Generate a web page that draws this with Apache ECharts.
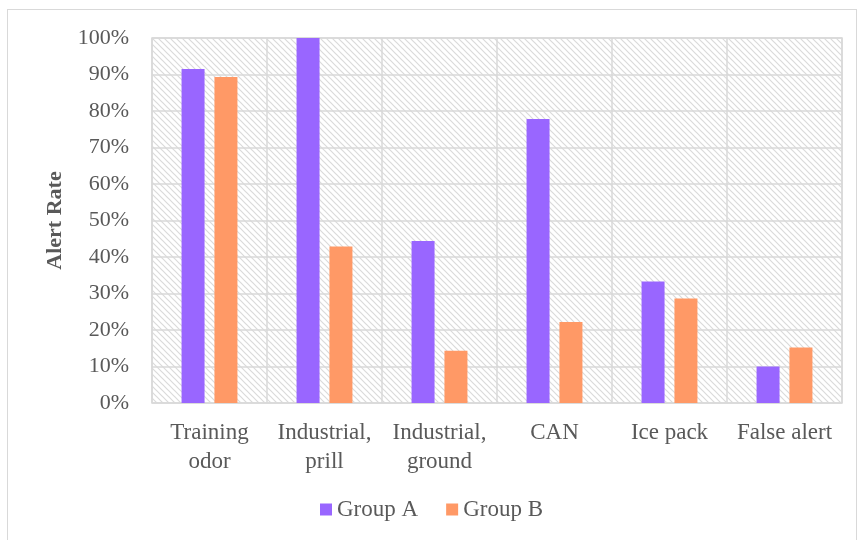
<!DOCTYPE html>
<html>
<head>
<meta charset="utf-8">
<script src="https://cdn.jsdelivr.net/npm/echarts@6/dist/echarts.min.js"></script>
<style>
  html, body { margin: 0; padding: 0; background: #fff; }
  #chart { width: 863px; height: 540px; }
  #frame { position: absolute; left: 7px; top: 9px; width: 848px; height: 540px; border: 1px solid #d9d9d9; pointer-events: none; }
</style>
</head>
<body>
<div id="chart"></div>
<div id="frame"></div>
<script>
const categories = ["Training\nodor", "Industrial,\nprill", "Industrial,\nground", "CAN", "Ice pack", "False alert"];
const groupA = [91.5, 100, 44.4, 77.8, 33.3, 10];
const groupB = [89.3, 42.9, 14.3, 22.2, 28.6, 15.2];
const yTicks = [0, 10, 20, 30, 40, 50, 60, 70, 80, 90, 100];

// diagonal hatch for the plot background
function hatch() {
  const c = document.createElement("canvas");
  c.width = 6;
  c.height = 6;
  const ctx = c.getContext("2d");
  ctx.fillStyle = "#ffffff";
  ctx.fillRect(0, 0, 6, 6);
  ctx.strokeStyle = "#dadada";
  ctx.lineWidth = 1.2;
  ctx.beginPath();
  ctx.moveTo(-1, -1); ctx.lineTo(7, 7);
  ctx.moveTo(-1, 5); ctx.lineTo(1, 7);
  ctx.moveTo(5, -1); ctx.lineTo(7, 1);
  ctx.stroke();
  return c;
}

const font = "'Liberation Serif', 'Times New Roman', serif";
const chart = echarts.init(document.getElementById("chart"), null, { renderer: "canvas" });
chart.setOption({
  backgroundColor: "#ffffff",
  animation: false,
  textStyle: { fontFamily: font },
  grid: {
    left: 152, right: 21, top: 38, bottom: 137,
    show: true,
    backgroundColor: { image: hatch(), repeat: "repeat" },
    borderColor: "#d9d9d9",
    borderWidth: 1.5,
  },
  legend: {
    data: ["Group A", "Group B"],
    bottom: 14,
    left: "center",
    itemWidth: 12,
    itemHeight: 12,
    itemGap: 28,
    icon: "rect",
    textStyle: { fontFamily: font, fontSize: 23, color: "#595959" },
  },
  xAxis: {
    type: "category",
    data: categories,
    axisLine: { show: false },
    axisTick: { show: false },
    splitLine: { show: true, interval: 0, lineStyle: { color: "#d9d9d9", width: 1.5 } },
    axisLabel: { interval: 0, margin: 15, fontFamily: font, fontSize: 23, lineHeight: 29, color: "#595959" },
  },
  yAxis: {
    type: "value",
    min: yTicks[0],
    max: yTicks[yTicks.length - 1],
    interval: 10,
    name: "Alert Rate",
    nameLocation: "middle",
    nameRotate: 90,
    nameGap: 86,
    nameTextStyle: { fontFamily: font, fontSize: 22, fontWeight: "bold", color: "#595959" },
    axisLine: { show: false },
    axisTick: { show: false },
    splitLine: { lineStyle: { color: "#d9d9d9", width: 1.5 } },
    axisLabel: { margin: 23, fontFamily: font, fontSize: 22, color: "#595959", formatter: (v) => v + "%" },
  },
  series: [
    {
      name: "Group A",
      type: "bar",
      data: groupA,
      barWidth: 23,
      barGap: "43%",
      itemStyle: { color: "#9966FF" },
    },
    {
      name: "Group B",
      type: "bar",
      data: groupB,
      barWidth: 23,
      itemStyle: { color: "#FF9966" },
    },
  ],
});
</script>
</body>
</html>
